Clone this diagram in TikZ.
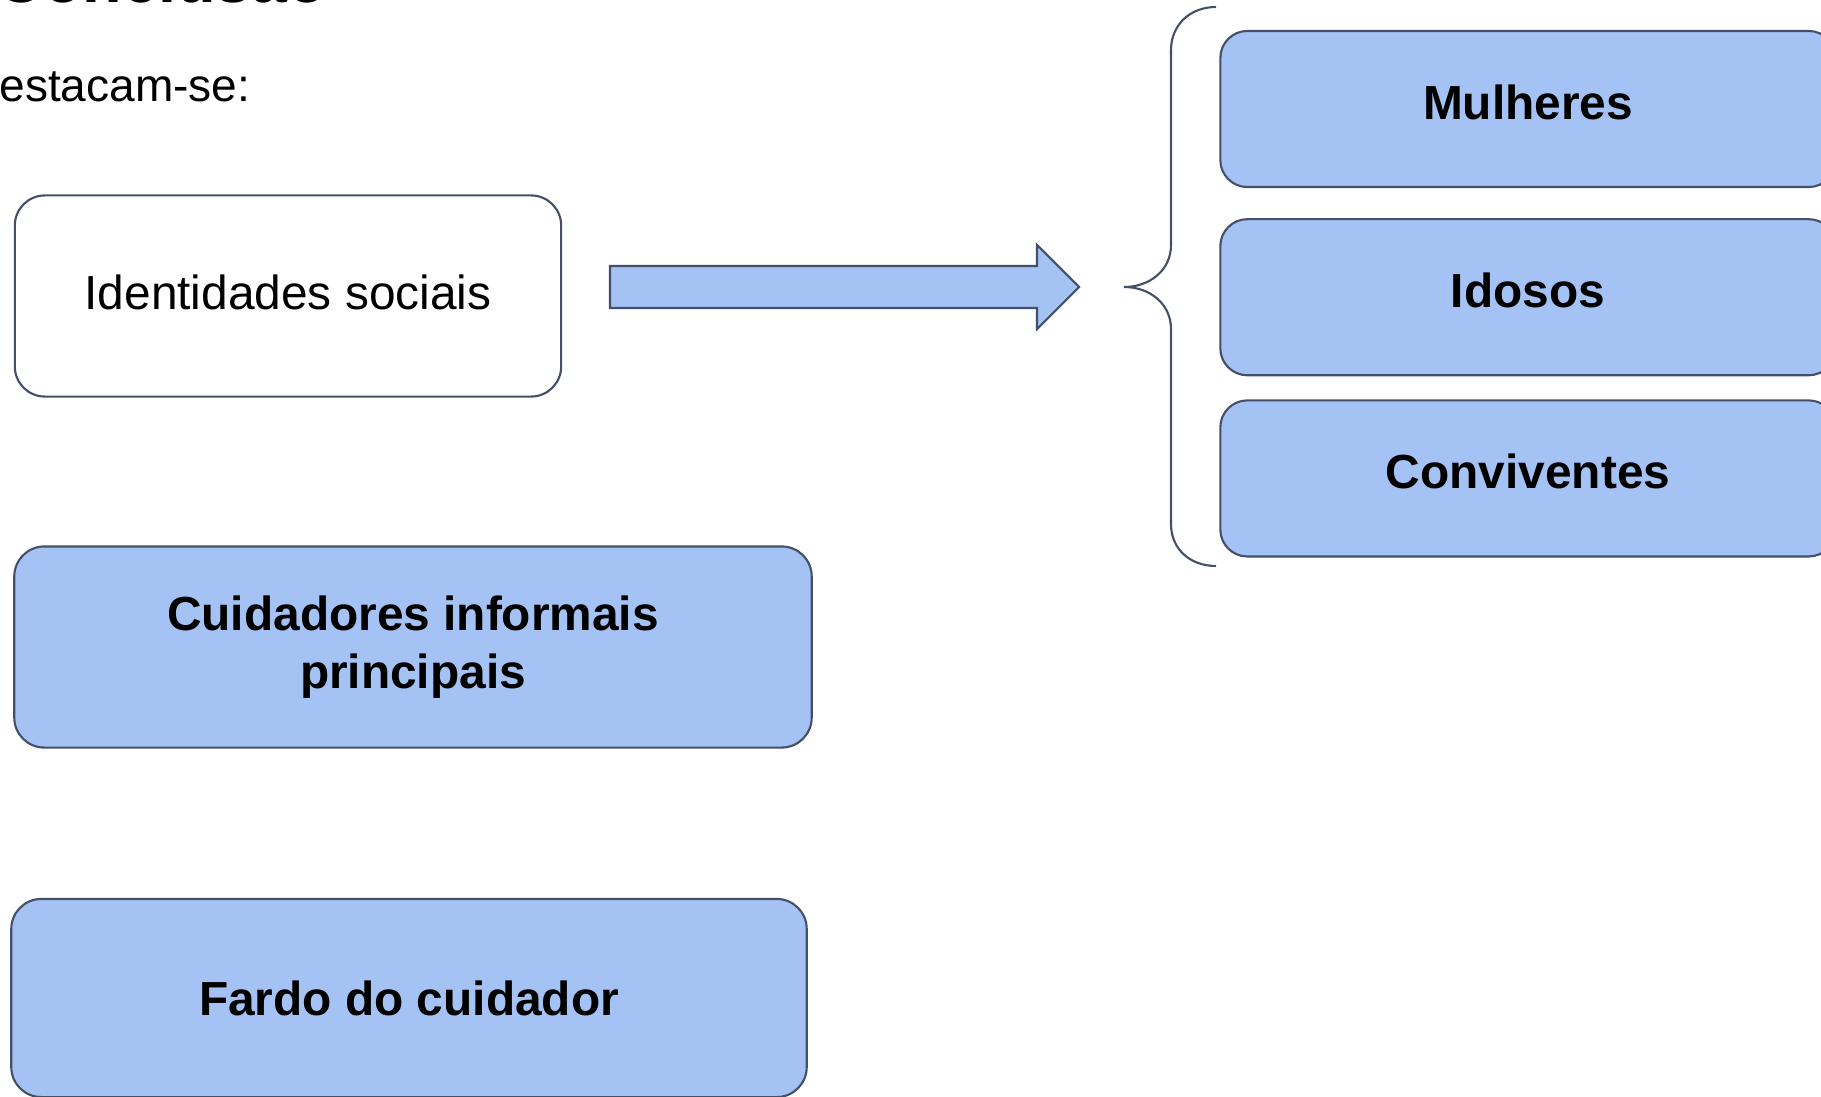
\documentclass[tikz,border=0pt]{standalone}
\usepackage{fontspec}
\setmainfont{Liberation Sans}
\usetikzlibrary{positioning}

\definecolor{boxblue}{HTML}{A4C2F4}
\definecolor{boxline}{HTML}{435068}
\tikzstyle{every picture}+=[>=latex]

\begin{document}
\begin{tikzpicture}[x=0.01cm, y=-0.01cm,
	box/.style={draw=boxline, line width=0.6pt, rounded corners=0.3cm, align=center,
		inner sep=0pt, font=\fontsize{13.6}{16.5}\selectfont},
	bluebox/.style={box, fill=boxblue, font=\fontsize{13.6}{16.5}\selectfont\bfseries},
	itembox/.style={bluebox, rounded corners=0.27cm, minimum width=6.15cm, minimum height=1.56cm,
		text height=9.8pt, text depth=4pt},
	blockarrow/.style={draw=boxline, line width=0.6pt, fill=boxblue, line join=miter},
	braceline/.style={draw=boxline, line width=0.6pt},
]
	\useasboundingbox (0,0) rectangle (1821,1097) ;
	\clip (0,0) rectangle (1821,1097) ;

	\node[anchor=base west, inner sep=0pt, font=\fontsize{18.4}{22}\selectfont\bfseries]
		(title) at (-4,3) {Conclusão} ;
	\node[anchor=base east, inner sep=0pt, font=\fontsize{13.1}{16}\selectfont]
		(lead) at (251,102) {Destacam-se:} ;

	\node[box, fill=white, minimum width=5.46cm, minimum height=2.01cm, text depth=2pt]
		(ident) at (288,296) {Identidades sociais} ;
	\node[bluebox, minimum width=7.97cm, minimum height=2.01cm]
		(cuid) at (413,647) {Cuidadores informais\\principais} ;
	\node[bluebox, minimum width=7.95cm, minimum height=1.98cm]
		(fardo) at (409,998) {Fardo do cuidador} ;

	\node[itembox] (mulheres) at (1528,109) {Mulheres} ;
	\node[itembox, below=0.3cm of mulheres] (idosos) {Idosos} ;
	\node[itembox, below=0.23cm of idosos] (conv) {Conviventes} ;

	\coordinate (tail) at (610,287) ;
	\coordinate (tip) at (1079,287) ;
	\coordinate (bracetip) at (1124,287) ;

	\path[blockarrow] (tail) -- ++(0,-21) -- ++(427,0) -- ++(0,-21) -- (tip)
		-- ++(-42,42) -- ++(0,-21) -- ++(-427,0) -- cycle ;

	\path[braceline] (1216,7) .. controls (1190,7) and (1171,25) .. (1171,50)
		-- (1171,245) .. controls (1171,270) and (1150,287) .. (bracetip)
		.. controls (1150,287) and (1171,304) .. (1171,329)
		-- (1171,524) .. controls (1171,549) and (1190,566) .. (1216,566) ;
\end{tikzpicture}
\end{document}
